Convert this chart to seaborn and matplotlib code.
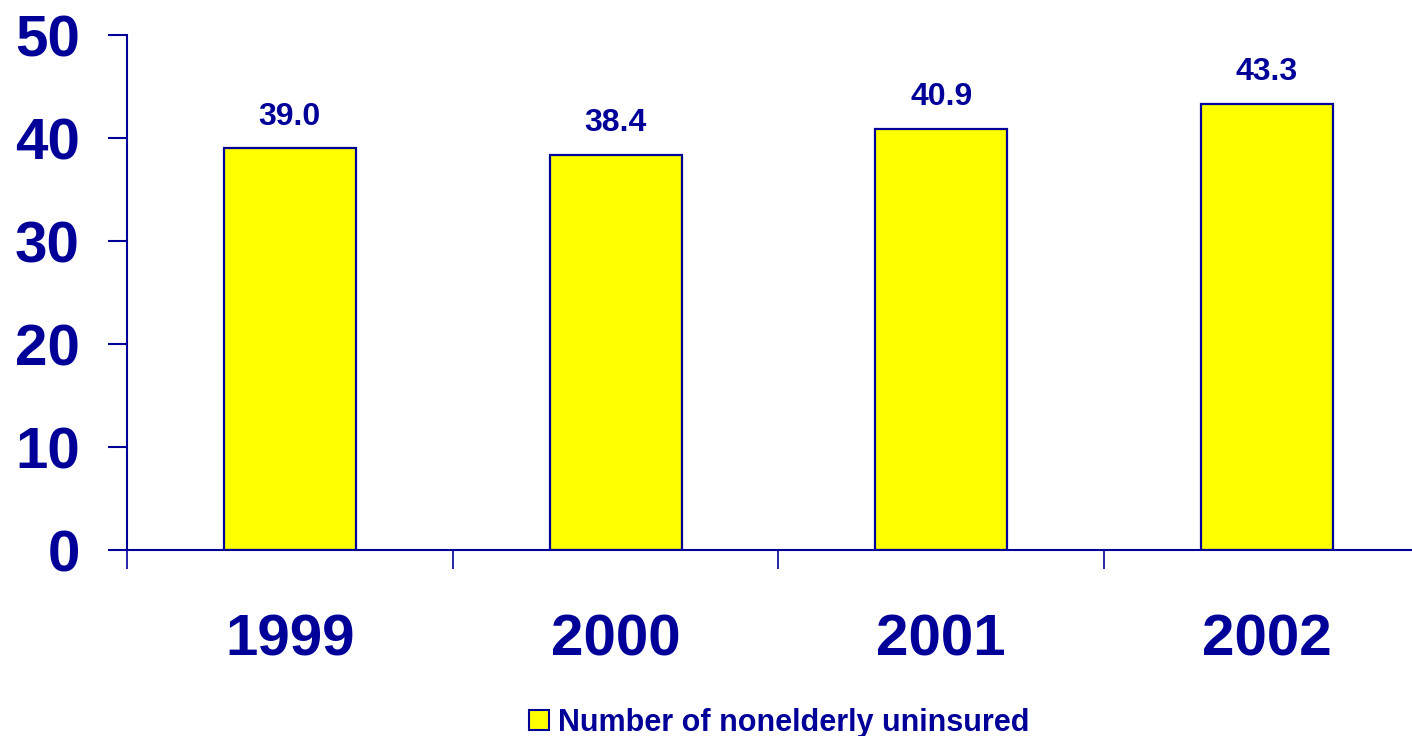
import matplotlib
matplotlib.use("Agg")
import matplotlib.pyplot as plt
import seaborn as sns
import pandas as pd
from matplotlib.patches import Patch

YEARS  = ["1999", "2000", "2001", "2002"]
VALUES = [39.0, 38.4, 40.9, 43.3]
SERIES = "Number of nonelderly uninsured"
YTICKS = [0, 10, 20, 30, 40, 50]

NAVY   = "#000099"
YELLOW = "#FFFF00"

sns.set_theme(style="white")
plt.rcParams["font.family"] = ["Liberation Sans", "DejaVu Sans"]
plt.rcParams["font.weight"] = "bold"

df = pd.DataFrame({"year": YEARS, "value": VALUES})

fig = plt.figure(figsize=(14.12, 7.36), dpi=100)
ax = fig.add_axes([0.0899, 0.2527, 0.9228, 0.6997])

sns.barplot(data=df, x="year", y="value", color=YELLOW, edgecolor=NAVY,
            linewidth=1.6, width=0.405, saturation=1, ax=ax)

ax.set_xlim(-0.5, len(YEARS) - 0.5)
ax.set_ylim(0, 50)
ax.set_yticks(YTICKS)
ax.set_xlabel("")
ax.set_ylabel("")

for s in ["top", "right"]:
    ax.spines[s].set_visible(False)
for s in ["left", "bottom"]:
    ax.spines[s].set_color(NAVY)
    ax.spines[s].set_linewidth(1.5)

ax.tick_params(axis="y", which="major", left=True, length=14, width=1.5,
               color=NAVY, pad=20, labelsize=42, labelcolor=NAVY)
ax.tick_params(axis="x", which="major", bottom=False, length=0, pad=46,
               labelsize=42, labelcolor=NAVY)
ax.set_xticks([i - 0.5 for i in range(len(YEARS) + 1)], minor=True)
ax.tick_params(axis="x", which="minor", bottom=True, length=14, width=1.2,
               color=NAVY)
for lab in ax.get_xticklabels() + ax.get_yticklabels():
    lab.set_fontweight("bold")

for bar, v in zip(ax.patches, VALUES):
    ax.annotate(f"{v:.1f}", (bar.get_x() + bar.get_width() / 2, bar.get_height()),
                xytext=(0, 12), textcoords="offset points", ha="center", va="bottom",
                fontsize=23, fontweight="bold", color=NAVY)

handle = Patch(facecolor=YELLOW, edgecolor=NAVY, linewidth=1.5)
fig.legend([handle], [SERIES], loc="center", bbox_to_anchor=(0.552, 0.018),
           frameon=False, handlelength=0.65, handleheight=0.65, handletextpad=0.3,
           prop={"size": 22, "weight": "bold"}, labelcolor=NAVY)

fig.savefig("out.png", dpi=100, facecolor="white")
